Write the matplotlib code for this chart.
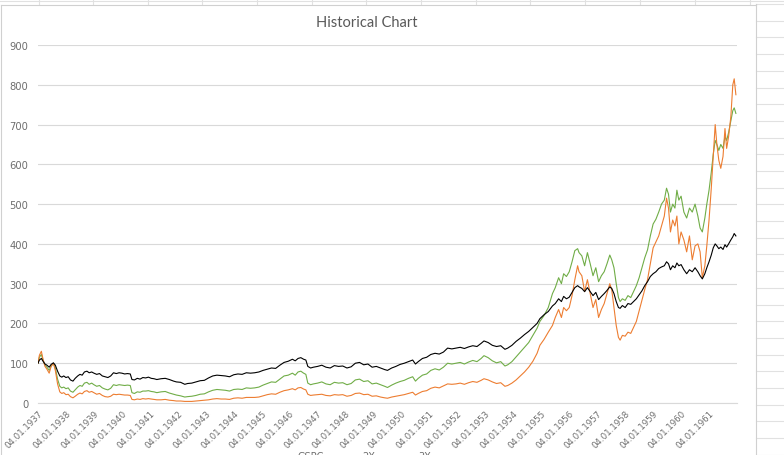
import matplotlib.pyplot as plt
from matplotlib.lines import Line2D

# values, time in fractional years
years = [1937.00, 1937.05, 1937.12, 1937.18, 1937.25, 1937.32, 1937.40, 1937.47, 1937.55, 1937.62,
         1937.70, 1937.78, 1937.85, 1937.92, 1938.00, 1938.08, 1938.16, 1938.25, 1938.33, 1938.42,
         1938.50, 1938.58, 1938.66, 1938.75, 1938.83, 1938.92, 1939.00, 1939.10, 1939.20, 1939.30,
         1939.40, 1939.50, 1939.60, 1939.70, 1939.80, 1939.90, 1940.00, 1940.10, 1940.20, 1940.30,
         1940.36, 1940.45, 1940.55, 1940.65, 1940.75, 1940.85, 1940.95, 1941.05, 1941.15, 1941.25,
         1941.40, 1941.55, 1941.70, 1941.85, 1941.95, 1942.10, 1942.25, 1942.35, 1942.50, 1942.65,
         1942.80, 1942.95, 1943.10, 1943.25, 1943.40, 1943.55, 1943.70, 1943.85, 1944.00, 1944.15,
         1944.30, 1944.45, 1944.60, 1944.75, 1944.90, 1945.05, 1945.20, 1945.35, 1945.50, 1945.65,
         1945.80, 1945.95, 1946.10, 1946.20, 1946.30, 1946.40, 1946.50, 1946.58, 1946.65, 1946.75,
         1946.85, 1947.00, 1947.15, 1947.30, 1947.45, 1947.60, 1947.75, 1947.90, 1948.05, 1948.20,
         1948.35, 1948.50, 1948.65, 1948.80, 1948.95, 1949.10, 1949.25, 1949.40, 1949.50, 1949.65,
         1949.80, 1949.95, 1950.10, 1950.25, 1950.40, 1950.50, 1950.60, 1950.75, 1950.90, 1951.05,
         1951.20, 1951.35, 1951.50, 1951.65, 1951.80, 1951.95, 1952.10, 1952.25, 1952.40, 1952.55,
         1952.70, 1952.85, 1952.95, 1953.10, 1953.25, 1953.40, 1953.55, 1953.70, 1953.80, 1953.95,
         1954.10, 1954.25, 1954.40, 1954.55, 1954.70, 1954.85, 1954.95, 1955.10, 1955.25, 1955.40,
         1955.50, 1955.62, 1955.72, 1955.80, 1955.90, 1956.00, 1956.10, 1956.20, 1956.30, 1956.35,
         1956.45, 1956.55, 1956.65, 1956.75, 1956.85, 1956.95, 1957.05, 1957.15, 1957.25, 1957.35,
         1957.45, 1957.52, 1957.60, 1957.68, 1957.76, 1957.82, 1957.90, 1958.00, 1958.10, 1958.20,
         1958.30, 1958.40, 1958.50, 1958.60, 1958.70, 1958.80, 1958.90, 1959.00, 1959.10, 1959.20,
         1959.30, 1959.40, 1959.48, 1959.55, 1959.62, 1959.70, 1959.78, 1959.85, 1959.92, 1960.00,
         1960.10, 1960.20, 1960.30, 1960.40, 1960.50, 1960.60, 1960.68, 1960.76, 1960.85, 1960.92,
         1961.00, 1961.08, 1961.15, 1961.22, 1961.28, 1961.35, 1961.42, 1961.50, 1961.57, 1961.63,
         1961.70, 1961.78, 1961.85, 1961.90, 1961.96]

gspc = [100, 108, 112, 105, 98, 95, 90, 97, 101, 95,
        80, 68, 65, 68, 64, 66, 58, 55, 62, 68,
        72, 70, 78, 80, 76, 78, 75, 72, 74, 68,
        66, 64, 68, 76, 74, 76, 75, 73, 74, 73,
        59, 58, 62, 60, 64, 63, 65, 62, 61, 59,
        61, 62, 59, 55, 53, 52, 47, 49, 50, 53,
        56, 57, 63, 68, 70, 69, 68, 66, 71, 73,
        72, 76, 75, 76, 78, 82, 85, 88, 87, 95,
        102, 105, 110, 106, 112, 114, 110, 108, 92, 88,
        90, 92, 95, 90, 88, 94, 92, 93, 88, 91,
        100, 102, 96, 98, 90, 92, 88, 84, 82, 88,
        92, 97, 100, 104, 108, 98, 104, 112, 115, 122,
        125, 123, 128, 138, 136, 138, 140, 137, 141, 144,
        142, 150, 156, 152, 145, 142, 144, 135, 138, 145,
        155, 163, 172, 180, 190, 200, 212, 222, 230, 244,
        250, 262, 255, 268, 262, 266, 278, 290, 295, 292,
        288, 280, 290, 280, 270, 278, 260, 268, 275, 283,
        292, 288, 275, 255, 240, 238, 245, 240, 250, 248,
        255, 262, 272, 282, 295, 305, 318, 325, 330, 338,
        342, 345, 355, 350, 335, 345, 340, 352, 345, 348,
        335, 325, 335, 330, 340, 330, 320, 312, 325, 340,
        355, 372, 390, 400, 395, 388, 392, 386, 398, 392,
        400, 410, 418, 426, 420]

lev2x = [100, 115, 122, 108, 95, 90, 82, 93, 100, 88,
         60, 42, 38, 40, 36, 38, 30, 27, 33, 40,
         44, 42, 50, 52, 47, 50, 46, 42, 44, 38,
         35, 33, 37, 46, 44, 46, 45, 44, 45, 44,
         26, 24, 28, 27, 30, 30, 31, 29, 28, 26,
         28, 29, 25, 22, 20, 18, 15, 16, 17, 19,
         22, 23, 28, 32, 34, 33, 32, 30, 34, 35,
         34, 38, 37, 38, 40, 45, 49, 53, 52, 60,
         68, 70, 75, 70, 78, 80, 75, 72, 50, 46,
         48, 50, 53, 48, 46, 52, 50, 51, 46, 49,
         58, 60, 54, 56, 48, 50, 46, 42, 39, 45,
         50, 54, 57, 62, 66, 55, 62, 70, 73, 82,
         86, 83, 90, 100, 98, 100, 102, 98, 103, 107,
         104, 112, 119, 114, 106, 101, 104, 93, 96, 104,
         116, 128, 140, 152, 170, 188, 205, 220, 240, 275,
         290, 315, 300, 325, 318, 330, 355, 383, 388, 378,
         370, 345, 378, 350, 320, 340, 305, 320, 330, 350,
         372, 360, 340, 300, 265, 255, 262, 258, 270, 265,
         280, 295, 315, 340, 365, 385, 420, 450, 462, 480,
         500, 510, 540, 525, 480, 500, 490, 535, 510, 520,
         480, 465, 490, 480, 500, 470, 440, 430, 465, 500,
         535, 580, 625, 660, 650, 635, 650, 640, 670, 660,
         680, 710, 735, 742, 728]

lev3x = [100, 120, 130, 110, 92, 85, 75, 92, 100, 82,
         48, 28, 24, 26, 21, 22, 16, 13, 17, 22,
         25, 23, 29, 31, 27, 29, 26, 22, 24, 19,
         16, 15, 17, 22, 21, 22, 21, 20, 20, 19,
         9, 8, 10, 9, 11, 10, 11, 10, 9, 8,
         8, 9, 7, 6, 5, 5, 4, 4, 4, 5,
         6, 7, 8, 10, 11, 10, 10, 9, 12, 13,
         12, 14, 14, 14, 15, 18, 21, 23, 22, 27,
         31, 33, 36, 33, 38, 39, 35, 33, 22, 19,
         20, 21, 22, 19, 18, 21, 20, 21, 17, 19,
         24, 25, 21, 22, 17, 18, 15, 13, 12, 15,
         17, 19, 21, 24, 27, 20, 24, 29, 31, 37,
         40, 38, 43, 48, 47, 48, 50, 47, 51, 54,
         52, 57, 61, 58, 53, 49, 51, 42, 44, 50,
         58, 68, 78, 90, 105, 125, 145, 160, 178, 195,
         215, 235, 215, 240, 232, 240, 270, 310, 345, 330,
         320, 280, 310, 275, 240, 260, 215, 235, 250, 275,
         300, 285, 240, 195, 165, 158, 170, 168, 178, 175,
         190, 205, 232, 258, 285, 310, 350, 390, 405, 420,
         445, 470, 515, 490, 430, 460, 445, 470, 400, 430,
         410, 380, 420, 360, 395, 400, 380, 315, 345, 395,
         460, 540, 620, 700, 650, 610, 590, 620, 690, 640,
         670, 720, 800, 815, 775]

series_names = ['GSPC', '2X', '3X']
series_colors = ['#000000', '#70AD47', '#ED7D31']
tick_years = list(range(1937, 1962))
tick_labels = [f'04.01.{y}' for y in tick_years]
y_ticks = list(range(0, 1000, 100))

W, H = 784, 456
fig = plt.figure(figsize=(W / 100, H / 100), dpi=100)
fig.patch.set_facecolor('white')

# spreadsheet cell lines around the chart object
cell = '#E1E1E1'
for x in [39, 93, 148, 202, 257, 312, 366, 421, 476, 530, 585, 640, 695, 750]:
    fig.add_artist(Line2D([x / W, x / W], [1 - 0 / H, 1 - 5 / H], color=cell, lw=0.8))
fig.add_artist(Line2D([0, 1], [1 - 1.5 / H, 1 - 1.5 / H], color=cell, lw=0.8))
yy = 5.0
while yy < H:
    fig.add_artist(Line2D([756 / W, 1], [1 - yy / H, 1 - yy / H], color=cell, lw=0.8))
    yy += 16.7
# chart area border
fig.add_artist(Line2D([755.5 / W, 755.5 / W], [0, 1 - 5 / H], color='#D0D0D0', lw=0.8))
fig.add_artist(Line2D([1 / W, 755.5 / W], [1 - 5.5 / H, 1 - 5.5 / H], color='#D0D0D0', lw=0.8))
fig.add_artist(Line2D([1 / W, 1 / W], [0, 1 - 5.5 / H], color='#D0D0D0', lw=0.8))

ax = fig.add_axes([38 / W, 1 - 404 / H, (737 - 38) / W, (404 - 46) / H])
for vals, name, col in zip([gspc, lev2x, lev3x], series_names, series_colors):
    ax.plot(years, vals, color=col, lw=0.8, label=name, zorder=3 if name == 'GSPC' else 2)

ax.set_xlim(1937, 1962)
ax.set_ylim(0, 900)
ax.set_yticks(y_ticks)
ax.set_xticks(tick_years)
ax.set_xticklabels(tick_labels, rotation=45, ha='right', va='top', rotation_mode='anchor')
ax.tick_params(axis='both', length=0, colors='#6E6E6E')
ax.tick_params(axis='y', pad=7, labelsize=7.2)
ax.tick_params(axis='x', pad=4, labelsize=6.2)
ax.grid(axis='y', color='#D9D9D9', lw=0.8)
ax.set_axisbelow(True)
for s in ['top', 'right', 'left']:
    ax.spines[s].set_visible(False)
ax.spines['bottom'].set_color('#D9D9D9')
ax.spines['bottom'].set_linewidth(0.8)

fig.text(367 / W, 1 - 23 / H, 'Historical Chart', ha='center', va='center',
         fontsize=10.5, color='#595959', family='Lato')

# legend, mostly cut off at the bottom edge like the reference
for name, xpos in zip(series_names, [297, 362, 418]):
    fig.text(xpos / W, 1 - 452.5 / H, name, ha='left', va='top', fontsize=7, color='#6E6E6E')

fig.savefig('out.png', dpi=100)
